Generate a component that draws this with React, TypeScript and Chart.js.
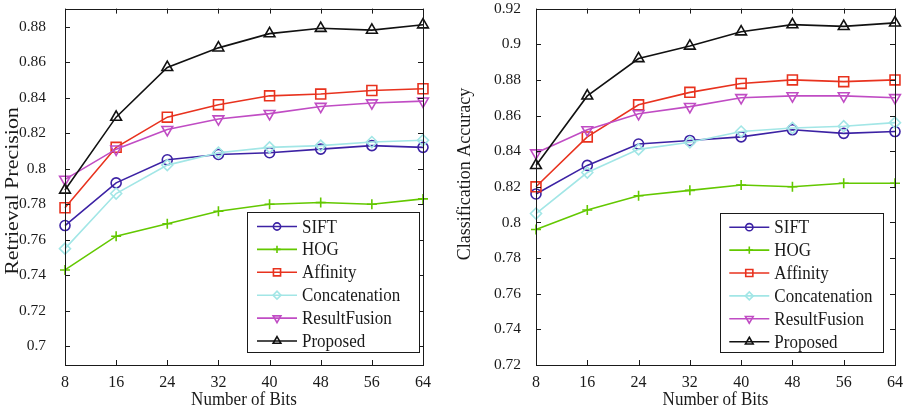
import React, { useEffect, useRef } from "react";
import { Chart, registerables } from "chart.js";
import { drawPoint } from "chart.js/helpers";

Chart.register(...registerables);

// ---------- data ----------
const bits = [8, 16, 24, 32, 40, 48, 56, 64];
const seriesNames = ["SIFT", "HOG", "Affinity", "Concatenation", "ResultFusion", "Proposed"];

const precisionSIFT = [0.768, 0.792, 0.805, 0.808, 0.809, 0.811, 0.813, 0.812];
const precisionHOG = [0.743, 0.762, 0.769, 0.776, 0.78, 0.781, 0.78, 0.783];
const precisionAffinity = [0.778, 0.812, 0.829, 0.836, 0.841, 0.842, 0.844, 0.845];
const precisionConcat = [0.755, 0.786, 0.802, 0.809, 0.812, 0.813, 0.815, 0.816];
const precisionFusion = [0.794, 0.811, 0.822, 0.828, 0.831, 0.835, 0.837, 0.838];
const precisionProposed = [0.788, 0.829, 0.857, 0.868, 0.876, 0.879, 0.878, 0.881];

const accuracySIFT = [0.816, 0.832, 0.844, 0.846, 0.848, 0.852, 0.85, 0.851];
const accuracyHOG = [0.796, 0.807, 0.815, 0.818, 0.821, 0.82, 0.822, 0.822];
const accuracyAffinity = [0.82, 0.848, 0.866, 0.873, 0.878, 0.88, 0.879, 0.88];
const accuracyConcat = [0.805, 0.828, 0.841, 0.845, 0.851, 0.853, 0.854, 0.856];
const accuracyFusion = [0.839, 0.852, 0.861, 0.865, 0.87, 0.871, 0.871, 0.87];
const accuracyProposed = [0.832, 0.871, 0.892, 0.899, 0.907, 0.911, 0.91, 0.912];

const precisionTicks = [0.7, 0.72, 0.74, 0.76, 0.78, 0.8, 0.82, 0.84, 0.86, 0.88];
const accuracyTicks = [0.72, 0.74, 0.76, 0.78, 0.8, 0.82, 0.84, 0.86, 0.88, 0.9, 0.92];

// ---------- styles ----------
const FONT = "'Liberation Serif', 'Times New Roman', serif";
const TEXT = "#1a1a1a";
const styles = [
  { color: "#3c22a4", pointStyle: "circle", radius: 5, rotation: 0 },
  { color: "#63c800", pointStyle: "cross", radius: 5, rotation: 0 },
  { color: "#e8321e", pointStyle: "rect", radius: 7, rotation: 0 },
  { color: "#a2e6e6", pointStyle: "rectRot", radius: 5.5, rotation: 0 },
  { color: "#c04cc4", pointStyle: "triangle", radius: 6.2, rotation: 180 },
  { color: "#111111", pointStyle: "triangle", radius: 6.2, rotation: 0 },
];

const framePlugin = {
  id: "matlabFrame",
  afterDraw(chart: any, _args: any, opts: any) {
    const ctx = chart.ctx;
    const a = chart.chartArea;
    const xs = chart.scales.x;
    const ys = chart.scales.y;
    ctx.save();
    ctx.strokeStyle = "#1a1a1a";
    ctx.lineWidth = 1;
    // inward ticks
    const tl = 5;
    ctx.beginPath();
    xs.ticks.forEach((_t: any, i: number) => {
      const px = Math.round(xs.getPixelForTick(i)) + 0.5;
      ctx.moveTo(px, a.bottom);
      ctx.lineTo(px, a.bottom - tl);
      ctx.moveTo(px, a.top);
      ctx.lineTo(px, a.top + tl);
    });
    ys.ticks.forEach((t: any) => {
      const py = Math.round(ys.getPixelForValue(t.value)) + 0.5;
      ctx.moveTo(a.left, py);
      ctx.lineTo(a.left + tl, py);
      ctx.moveTo(a.right, py);
      ctx.lineTo(a.right - tl, py);
    });
    ctx.stroke();
    // frame
    ctx.strokeRect(Math.round(a.left) + 0.5, Math.round(a.top) + 0.5, Math.round(a.right - a.left), Math.round(a.bottom - a.top));

    // legend
    const lg = opts.legend;
    const bx = a.right - lg.offsetRight;
    const by = a.bottom - lg.offsetBottom;
    ctx.fillStyle = "#ffffff";
    ctx.fillRect(bx, by, lg.width, lg.height);
    ctx.strokeStyle = "#1a1a1a";
    ctx.lineWidth = 1;
    ctx.strokeRect(Math.round(bx) + 0.5, Math.round(by) + 0.5, Math.round(lg.width), Math.round(lg.height));
    ctx.font = `${lg.fontSize}px ${FONT}`;
    ctx.textBaseline = "middle";
    ctx.textAlign = "left";
    chart.data.datasets.forEach((ds: any, i: number) => {
      const st = styles[i];
      const ry = by + 14.5 + i * 22.9;
      ctx.strokeStyle = st.color;
      ctx.lineWidth = 1.6;
      ctx.beginPath();
      ctx.moveTo(bx + lg.lineStart, ry);
      ctx.lineTo(bx + lg.lineStart + 40, ry);
      ctx.stroke();
      ctx.fillStyle = "rgba(0,0,0,0)";
      drawPoint(ctx, { pointStyle: st.pointStyle, rotation: st.rotation, radius: st.radius * 0.72, borderWidth: 1.6 }, bx + lg.lineStart + 20, ry);
      ctx.fillStyle = TEXT;
      ctx.save();
      ctx.translate(bx + lg.textStart, ry + 1);
      ctx.scale(1, 1.12);
      ctx.fillText(ds.label, 0, 0);
      ctx.restore();
    });

    // axis titles
    ctx.fillStyle = TEXT;
    ctx.textAlign = "center";
    ctx.textBaseline = "middle";
    ctx.save();
    ctx.translate((a.left + a.right) / 2, opts.xTitle.y);
    ctx.scale(1, 1.12);
    ctx.font = `${opts.xTitle.size}px ${FONT}`;
    ctx.fillText(opts.xTitle.text, 0, 0);
    ctx.restore();
    ctx.save();
    ctx.translate(opts.yTitle.x, opts.yTitle.y);
    ctx.rotate(-Math.PI / 2);
    ctx.scale(opts.yTitle.stretch, 1);
    ctx.font = `${opts.yTitle.size}px ${FONT}`;
    ctx.fillText(opts.yTitle.text, 0, 0);
    ctx.restore();
    ctx.restore();
  },
};

type PanelProps = {
  series: number[][];
  yTicks: number[];
  yMin: number;
  yMax: number;
  yAxisWidth: number;
  yTickPad: number;
  padRight: number;
  yTitle: any;
  legend: any;
};

function Panel(p: PanelProps) {
  const ref = useRef<HTMLCanvasElement | null>(null);
  useEffect(() => {
    if (!ref.current) return;
    const chart = new Chart(ref.current, {
      type: "line",
      data: {
        labels: bits.map(String),
        datasets: p.series.map((vals, i) => ({
          label: seriesNames[i],
          data: vals,
          borderColor: styles[i].color,
          backgroundColor: "rgba(0,0,0,0)",
          pointBackgroundColor: "rgba(0,0,0,0)",
          pointBorderColor: styles[i].color,
          pointStyle: styles[i].pointStyle as any,
          pointRotation: styles[i].rotation,
          pointRadius: styles[i].radius,
          pointBorderWidth: 1.6,
          borderWidth: 1.6,
          tension: 0,
          fill: false,
          clip: false as any,
          order: 6 - i,
        })),
      },
      options: {
        responsive: false,
        animation: false,
        devicePixelRatio: 1,
        layout: { padding: { left: 0, right: p.padRight, top: 7, bottom: 0 } },
        plugins: {
          legend: { display: false },
          tooltip: { enabled: false },
          matlabFrame: {
            legend: p.legend,
            xTitle: { text: "Number of Bits", size: 17, y: 400 },
            yTitle: p.yTitle,
          },
        } as any,
        scales: {
          x: {
            type: "category",
            offset: false,
            grid: { display: false },
            border: { display: false },
            ticks: { font: { family: FONT, size: 16 }, color: TEXT, padding: 0, maxRotation: 0, autoSkip: false },
            afterFit: (s: any) => {
              s.height = 46;
              s.paddingLeft = 0;
              s.paddingRight = 0;
            },
          },
          y: {
            type: "linear",
            min: p.yMin,
            max: p.yMax,
            grid: { display: false },
            border: { display: false },
            afterBuildTicks: (s: any) => {
              s.ticks = p.yTicks.map((v) => ({ value: v }));
            },
            ticks: {
              font: { family: FONT, size: 15.5 },
              color: TEXT,
              padding: p.yTickPad,
              callback: (v: any) => String(Number(Number(v).toFixed(2))),
            },
            afterFit: (s: any) => {
              s.width = p.yAxisWidth;
              s.paddingTop = 0;
              s.paddingBottom = 0;
            },
          },
        },
      },
      plugins: [framePlugin],
    });
    return () => chart.destroy();
  }, []);
  return <canvas ref={ref} width={453} height={411} style={{ display: "block", width: 453, height: 411 }} />;
}

export default function App() {
  return (
    <div style={{ position: "absolute", left: 0, top: 0, width: 906, height: 411, background: "#fff", display: "flex" }}>
      <Panel
        series={[precisionSIFT, precisionHOG, precisionAffinity, precisionConcat, precisionFusion, precisionProposed]}
        yTicks={precisionTicks}
        yMin={0.6895}
        yMax={0.8901}
        yAxisWidth={65}
        yTickPad={11}
        padRight={30}
        yTitle={{ text: "Retrieval Precision", size: 18, stretch: 1.22, x: 13, y: 191 }}
        legend={{ offsetRight: 176, offsetBottom: 153, width: 172, height: 140, lineStart: 10, textStart: 55, fontSize: 17 }}
      />
      <Panel
        series={[accuracySIFT, accuracyHOG, accuracyAffinity, accuracyConcat, accuracyFusion, accuracyProposed]}
        yTicks={accuracyTicks}
        yMin={0.72}
        yMax={0.92}
        yAxisWidth={83}
        yTickPad={7}
        padRight={11}
        yTitle={{ text: "Classification Accuracy", size: 18, stretch: 1.0, x: 12, y: 174 }}
        legend={{ offsetRight: 175, offsetBottom: 152.3, width: 162.6, height: 139.3, lineStart: 9.3, textStart: 54.3, fontSize: 17 }}
      />
    </div>
  );
}
